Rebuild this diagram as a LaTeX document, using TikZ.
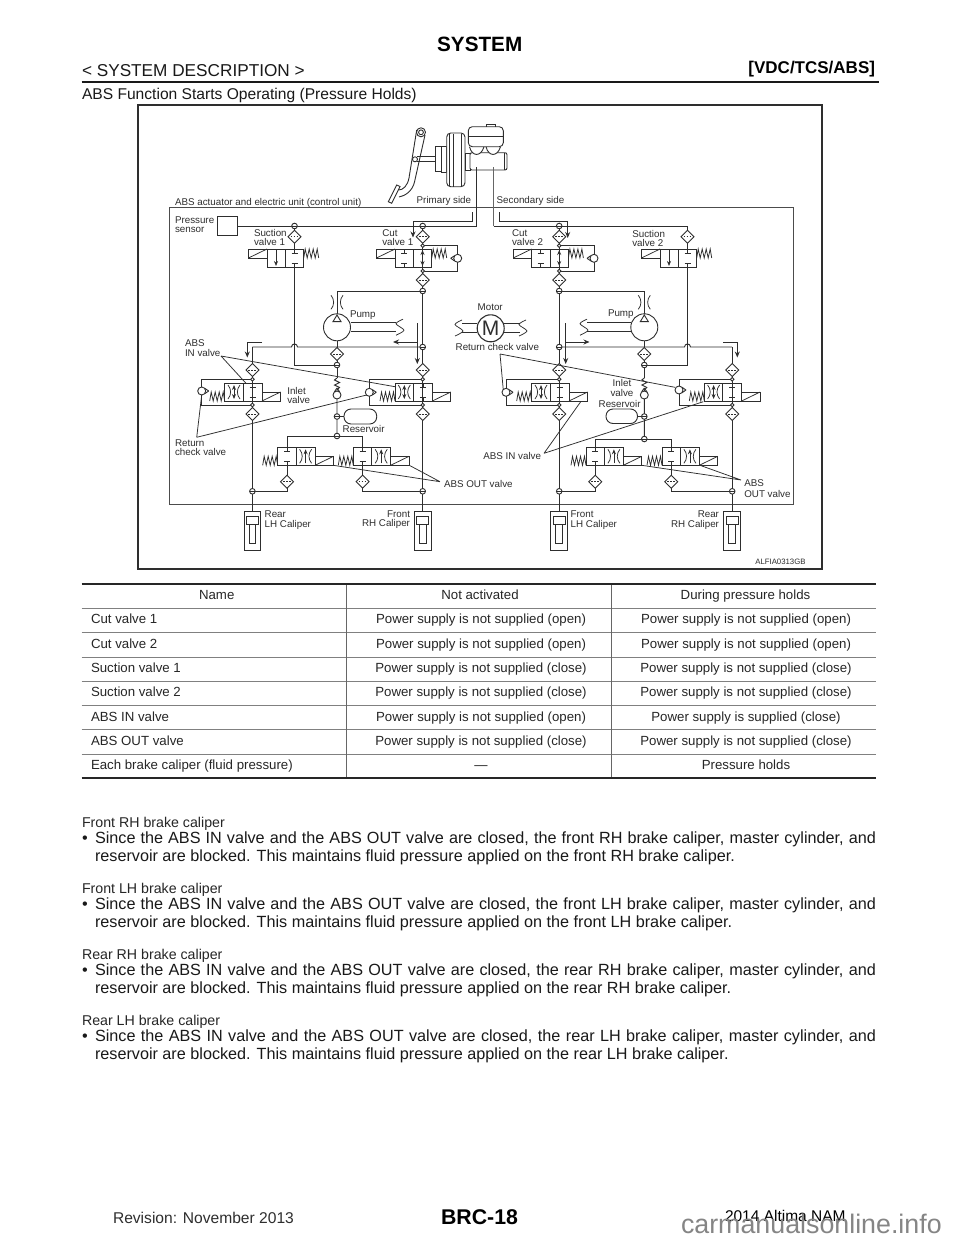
\documentclass[tikz,border=0pt]{standalone}
\usepackage{fontspec}
\setmainfont{Liberation Sans}
\usetikzlibrary{arrows.meta}
\newcommand{\fz}[1]{\fontsize{#1}{#1}\selectfont}
\colorlet{ink}{black!82}
\tikzset{
  base/.style={line width=0.9pt,draw=ink},
  thin line/.style={line width=0.75pt,draw=ink},
  txt/.style={inner sep=0pt,outer sep=0pt,text=ink},
  lb/.style={txt,anchor=base west,font=\fz{9.8}},
  lbr/.style={txt,anchor=base east,font=\fz{9.8}},
  body/.style={txt,anchor=base west,font=\fz{16.2},text=black!90},
  small/.style={txt,anchor=base west,font=\fz{14.2},text=black!85},
  cell/.style={txt,anchor=base,font=\fz{13.25},text=black!85},
  celll/.style={txt,anchor=base west,font=\fz{13.25},text=black!85},
  flow/.style={base,-{Stealth[length=6pt,width=5pt]}},
  jt/.pic={\draw[base,fill=white] (0,0) circle (2.8); \draw[base] (-2.8,0)--(2.8,0);},
  sj/.pic={\draw[base,fill=white] (0,0) circle (1.8);},
  dm/.pic={\draw[base,fill=white] (0,-6.5)--(6.5,0)--(0,6.5)--(-6.5,0)--cycle;
           \draw[line width=0.7pt,draw=ink,dash pattern=on 1.8pt off 1.2pt] (-4,0)--(4,0);},
  chkL/.pic={\draw[base,fill=white] (0,0) circle (4); \draw[base] (-7,0)--(-3.2,-2.6) (-7,0)--(-3.2,2.6);},
  chkR/.pic={\draw[base,fill=white] (0,0) circle (4); \draw[base] (7,0)--(3.2,-2.6) (7,0)--(3.2,2.6);},
  chkU/.pic={\draw[base,fill=white] (0,0) circle (4); \draw[base] (0,-7)--(-2.6,-3.2) (0,-7)--(2.6,-3.2);},
  stops/.pic={\draw[thin line] (0,0)--(0,4) (-3,4)--(3,4) (0,18)--(0,14) (-3,14)--(3,14);},
  thr/.pic={\draw[thin line] (-6,-7) .. controls (-2.5,-3) and (-2.5,3) .. (-6,7);
            \draw[thin line] (6,-7) .. controls (2.5,-3) and (2.5,3) .. (6,7);},
  brk/.pic={\draw[thin line] plot[smooth] coordinates {(7,-8) (0,-3.5) (8,3) (0,8)};},
  spr/.pic={\draw[thin line] (0,9)--(1.5,0)--(3.5,9)--(5.5,0)--(7.5,9)--(9.5,0)--(11.5,9)--(13.5,0)--(15,9);},
  sol/.pic={\draw[thin line] (0,0) rectangle (18.5,9); \draw[thin line] (0,9)--(18.5,0);},
  % top valves: origin = left top of box
  topsuc/.pic={\draw[base] (0,0) rectangle (36.7,18); \draw[base] (18.3,0)--(18.3,18);
     \draw[thin line,-{Stealth[length=5pt,width=4pt]}] (9,1)--(9,17);
     \pic at (27.5,0) {stops}; \pic at (-18.5,0) {sol}; \pic at (36.7,0) {spr};},
  topcut/.pic={\draw[base] (0,0) rectangle (36.7,18); \draw[base] (18.3,0)--(18.3,18);
     \pic at (9,0) {stops}; \draw[line width=1pt,draw=ink,{Stealth[length=5pt,width=4pt]}-{Stealth[length=5pt,width=4pt]}] (27.5,1)--(27.5,17);
     \pic at (-18.5,0) {sol}; \pic at (36.7,0) {spr};},
  invalve/.pic={\draw[base] (0,0) rectangle (37.3,18); \draw[base] (18.6,0)--(18.6,18);
     \pic at (27.9,0) {stops}; \pic at (9.3,9) {thr};
     \draw[line width=1pt,draw=ink,{Stealth[length=5pt,width=4pt]}-{Stealth[length=5pt,width=4pt]}] (9.3,2)--(9.3,16);
     \pic at (37.3,9) {sol}; \pic at (-15,9) {spr};},
  outvalve/.pic={\draw[base] (0,0) rectangle (37.3,18); \draw[base] (18.6,0)--(18.6,18);
     \pic at (9.3,0) {stops}; \pic at (27.9,9) {thr};
     \draw[line width=0.8pt,draw=ink,-{Stealth[length=5pt,width=4pt]}] (27.9,16)--(27.9,2);
     \pic at (37.3,9) {sol}; \pic at (-15,9) {spr};},
  pumpsym/.pic={\draw[base,fill=white] (0,0) circle (13.5);
     \draw[base] (0,-12.3)--(-4,-5.7)--(4,-5.7)--cycle; \pic at (0,-25) {thr};},
  caliper/.pic={\draw[base,fill=white] (-8.3,0) rectangle (8.3,39);
     \draw[base] (-5.8,5.5) rectangle (5.8,13); \draw[base] (-3.3,13) rectangle (3.3,32.5);},
}
\begin{document}
\begin{tikzpicture}[x=1pt,y=-1pt]
\useasboundingbox (0,0) rectangle (960,1242);
\clip (0,0) rectangle (960,1242);
\fill[white] (0,0) rectangle (960,1242);

% ===== page header
\node[txt,font=\fz{20.7}\bfseries,anchor=base,text=black] (title) at (479.7,51.7) {SYSTEM};
\node[txt,font=\fz{17.2},anchor=base west,text=black!90] (sect) at (82,76) {< SYSTEM DESCRIPTION >};
\node[txt,font=\fz{17}\bfseries,anchor=base east,text=black] (tag) at (875,73) {[VDC/TCS/ABS]};
\draw[line width=2pt,draw=black!90] (81.5,82)--(878.5,82);
\node[txt,font=\fz{15.6},anchor=base west,text=black!90] (head) at (82,99.3) {ABS Function Starts Operating (Pressure Holds)};

% ===== figure frame
\draw[line width=1.3pt,draw=ink] (138,105) rectangle (822,569);
\draw[line width=0.9pt,draw=black!70] (169,207) rectangle (793,504);

% ===== pedal
\draw[base] (416.7,130)--(409,178) .. controls (407.5,186) and (403,190) .. (398.5,190);
\draw[base] (425,135)--(414.5,182) .. controls (412.5,191) and (405,196) .. (399,197);
\draw[base,fill=white] (396.7,185)--(400,186.5)--(391.7,203.3)--(388.3,201.7)--cycle;
\draw[base,fill=white] (421,132.3) circle (4.5);
\draw[base] (421,132.3) circle (2.4);
\draw[base] (417,156.7)--(435,156.7) (417,161.7)--(435,161.7);
\draw[base,fill=white] (415,159.3) circle (2.5);
% booster
\draw[base,fill=white] (435,146.7) rectangle (441,171.7);
\draw[base,fill=white] (441,146) rectangle (446.7,172.7);
\draw[base,fill=white,rounded corners=4pt] (446.7,133) rectangle (465,186.7);
\draw[base] (449.5,134)--(449.5,186) (453,133.5)--(453,186.5) (461.7,134)--(461.7,186);
\draw[base] (465,153) rectangle (470,170);
% master cylinder
\draw[base,fill=white,rounded corners=2pt] (470,152.7) rectangle (507,170);
\draw[thin line] (504,153)--(504,170);
\draw[base,fill=white] (469.5,146.7) .. controls (472,157) and (481,157) .. (484,146.7);
\draw[base,fill=white] (486,146.7) .. controls (488.5,157) and (497.5,157) .. (500.5,146.7);
\draw[base,fill=white,rounded corners=4pt] (468.3,126.7) rectangle (503.3,146.7);
\draw[thin line] (468.3,136.7)--(503.3,136.7);
\draw[base] (486,126.7)--(486,124)--(495.7,124)--(495.7,126.7);

% ===== main lines
\coordinate (mcP) at (476.7,167);
\coordinate (mcS) at (493.5,167);
\draw[base] (237,226)--(476.7,226)--(mcP);
\draw[base,draw=black!60] (mcS)--(493.5,226);
\draw[base] (493.5,226)--(687.5,226)--(687.5,249);
\draw[base] (294.5,226)--(294.5,249);
% vertical risers
\draw[base] (422.7,226)--(422.7,511);
\draw[base] (559.2,226)--(559.2,511);
\draw[base] (252.4,347)--(252.4,511);
\draw[base] (732.2,347)--(732.2,511);
% cut bypass
\draw[base] (422.7,245.7)-|(457.7,271)-|(422.7,271);
\draw[base] (559.2,245.7)-|(594,271)-|(559.2,271);
% pump outlet
\draw[base] (422.7,291)-|(337,314);
\draw[base] (559.2,291)-|(644.3,314);
% suction lines
\draw[base] (294.5,267)--(294.5,365)--(337,365);
\draw[base] (687.5,267)--(687.5,365)--(644.3,365);
% high line with jumps
\draw[base] (252.4,347)--(291.5,347) .. controls (291.5,343) and (297.5,343) .. (297.5,347)--(422.7,347);
\draw[base] (559.2,347)--(684.5,347) .. controls (684.5,343) and (690.5,343) .. (690.5,347)--(732.2,347);
% centre lines
\draw[base] (337,340)--(337,378);
\draw[base] (337,378)--(334.5,380)--(339.5,382.5)--(334.5,385)--(339.5,387.5)--(337,390)--(337,436);
\draw[base] (644.3,340)--(644.3,378);
\draw[base] (644.3,378)--(641.8,380)--(646.8,382.5)--(641.8,385)--(646.8,387.5)--(644.3,390)--(644.3,439);
% OUT valve lines
\draw[base] (287,447.3)|-(362.6,436)--(362.6,447.3);
\draw[base] (595.3,447.3)|-(671.3,439)--(671.3,447.3);
\draw[base] (287,465.3)|-(252.4,491.3);
\draw[base] (362.6,465.3)|-(422.7,491.3);
\draw[base] (595.3,465.3)|-(559.2,491.3);
\draw[base] (671.3,465.3)|-(732.2,491.3);
% IN bypass
\draw[base] (252.4,379.3)-|(201.7,405)-|(252.4,405);
\draw[base] (422.7,379.3)-|(369.3,405)-|(422.7,405);
\draw[base] (559.2,379.3)-|(506,405)-|(559.2,405);
\draw[base] (732.2,379.3)-|(679,405)-|(732.2,405);

% ===== pressure sensor
\draw[base,fill=white] (217,216) rectangle (237,235);

% ===== top valves
\pic at (267,249) {topsuc};
\pic at (395,249) {topcut};
\pic at (531.7,249) {topcut};
\pic at (660,249) {topsuc};
\foreach \xx in {294.5,687.5} {\pic at (\xx,236.7) {dm};}
\foreach \xx in {422.7,559.2} {\pic at (\xx,236.7) {dm}; \pic at (\xx,280) {dm};
   \pic at (\xx,245.7) {sj}; \pic at (\xx,271) {sj};
   \pic at (\xx,291) {jt}; \pic at (\xx,347) {jt};}
\foreach \xx in {294.5,422.7,559.2} {\pic at (\xx,226) {jt};}
\pic at (457.7,258.3) {chkL};
\pic at (594,258.3) {chkL};

% ===== pumps and motor
\pic at (337,327.3) {pumpsym};
\pic at (644.3,327.3) {pumpsym};
\draw[base] (350.5,322.7)--(396,322.7) (350.5,331.7)--(396,331.7);
\pic at (396,327.2) {brk};
\draw[base] (630.8,322.7)--(587,322.7) (630.8,331.7)--(587,331.7);
\pic at (580,327.2) {brk};
\draw[base] (462,323.3)--(477.2,323.3) (462,332.7)--(477.2,332.7);
\pic at (455,328) {brk};
\draw[base] (504.2,323.3)--(520,323.3) (504.2,332.7)--(520,332.7);
\pic at (519,328) {brk};
\draw[line width=1.1pt,draw=ink,fill=white] (490.7,328.3) circle (13.5);
\node[txt,font=\fz{21}] (motorM) at (490.7,328.5) {M};

% flow arrows
\draw[flow] (472,212)--(472,221)--(413,221)--(413,237.5);
\draw[flow] (499.3,212)--(499.3,221)--(567.7,221)--(567.7,238);
\draw[base] (417.3,323)--(417.3,350);
\draw[flow] (417.3,342)--(393,342);
\draw[flow] (417.3,349)--(417.3,364);
\draw[base] (565.7,323)--(565.7,350);
\draw[flow] (565.7,342)--(589.5,342);
\draw[flow] (565.7,349)--(565.7,364);
\draw[flow] (262,342)--(247.3,342)--(247.3,357.5);
\draw[flow] (723.3,342)--(737.3,342)--(737.3,357.5);

% ===== centre column symbols
\foreach \xx in {337,644.3} {\pic at (\xx,354) {dm}; \pic at (\xx,365) {jt}; \pic at (\xx,395) {chkU}; \pic at (\xx,416.5) {jt};}
\pic at (337,436) {jt};
\pic at (644.3,439) {jt};
\draw[base,fill=white,rounded corners=7pt] (344,409) rectangle (376.7,424);
\draw[base] (339.8,416.5)--(344,416.5);
\draw[base,fill=white,rounded corners=7pt] (606,409) rectangle (637.5,423.5);
\draw[base] (637.5,416.5)--(641.5,416.5);

% ===== IN valves
\foreach \xx/\cc in {224.7/252.4,395/422.7,531.7/559.2,704.3/732.2} {
  \pic at (\xx,383) {invalve};
  \pic at (\cc,370) {dm}; \pic at (\cc,414) {dm};
  \pic at (\cc,379.3) {sj}; \pic at (\cc,405) {sj}; \pic at (\cc,491.3) {jt};
}
\pic at (201.7,391) {chkR};
\pic at (369.3,392.3) {chkR};
\pic at (506,392.3) {chkR};
\pic at (679,390) {chkR};

% ===== OUT valves
\foreach \xx/\cc in {277.7/287,353.3/362.6,586/595.3,662/671.3} {
  \pic at (\xx,447.3) {outvalve};
  \pic at (\cc,481.7) {dm};
}

% ===== calipers
\foreach \xx in {252.4,422.7,559.2,732.2} {\pic at (\xx,511) {caliper};}

% ===== leaders
\draw[thin line] (221,356)--(246,383.3) (221,356)--(395,386.7);
\draw[thin line] (196.7,437.3)--(201.7,395) (196.7,437.3)--(366.7,395);
\draw[thin line] (440,481.7)--(333.3,465.3) (440,481.7)--(409.3,465.3);
\draw[thin line] (544,453.3)--(581,401.3) (544,453.3)--(703.3,401.7);
\draw[thin line] (500,354)--(503.3,390) (500,354)--(675,387.3);
\draw[thin line] (741,480)--(641.7,465.3) (741,480)--(700,465.3);

% ===== figure labels
\node[lb] (l01) at (175,205) {ABS actuator and electric unit (control unit)};
\node[lb] (l02) at (416.7,203.5) {Primary side};
\node[lb] (l03) at (496.7,203.5) {Secondary side};
\node[lb] (l04) at (175,223.5) {Pressure};
\node[lb] (l05) at (175,232.7) {sensor};
\node[lb] (l06) at (254,236) {Suction};
\node[lb] (l07) at (254,245) {valve 1};
\node[lb] (l08) at (382.3,236) {Cut};
\node[lb] (l09) at (382.3,245) {valve 1};
\node[lb] (l10) at (512,236) {Cut};
\node[lb] (l11) at (512,245) {valve 2};
\node[lb] (l12) at (632.3,237) {Suction};
\node[lb] (l13) at (632.3,246) {valve 2};
\node[lb] (l14) at (350,317.5) {Pump};
\node[lb] (l15) at (608,316.5) {Pump};
\node[lb] (l16) at (477.7,310) {Motor};
\node[lb] (l17) at (455.7,350.5) {Return check valve};
\node[lb] (l18) at (185,346.5) {ABS};
\node[lb] (l19) at (185,356) {IN valve};
\node[lb] (l20) at (287.3,394) {Inlet};
\node[lb] (l21) at (287.3,403.5) {valve};
\node[lb] (l22) at (342.7,432.5) {Reservoir};
\node[lb] (l23) at (175,446) {Return};
\node[lb] (l24) at (175,455.5) {check valve};
\node[lb] (l25) at (444,487.5) {ABS OUT valve};
\node[lb] (l26) at (264.7,517.5) {Rear};
\node[lb] (l27) at (264.7,527) {LH Caliper};
\node[lbr] (l28) at (410,517) {Front};
\node[lbr] (l29) at (410,526.5) {RH Caliper};
\node[txt,font=\fz{9.8},anchor=base] (l30) at (622,386.5) {Inlet};
\node[txt,font=\fz{9.8},anchor=base] (l31) at (622,396) {valve};
\node[lb] (l32) at (598.7,407.5) {Reservoir};
\node[lb] (l33) at (483.3,459) {ABS IN valve};
\node[lb] (l34) at (744.3,486) {ABS};
\node[lb] (l35) at (744.3,497.5) {OUT valve};
\node[lb] (l36) at (570.7,517.5) {Front};
\node[lb] (l37) at (570.7,527) {LH Caliper};
\node[lbr] (l38) at (719,517.5) {Rear};
\node[lbr] (l39) at (719,527) {RH Caliper};
\node[txt,font=\fz{7.8},anchor=base west] (l40) at (755.3,564) {ALFIA0313GB};

% ===== table
\draw[line width=1.8pt,draw=black!85] (81.5,584)--(876,584);
\draw[line width=1.8pt,draw=black!85] (81.5,778)--(876,778);
\foreach \yy in {608.3,632.5,657,681,705.3,729.7,754} {\draw[line width=1pt,draw=black!50] (81.5,\yy)--(876,\yy);}
\draw[line width=0.6pt,draw=black!60] (346,585)--(346,777) (611,585)--(611,777);
\node[cell] (h1) at (216.7,599.5) {Name};
\node[cell] (h2) at (480,599.5) {Not activated};
\node[cell] (h3) at (745.5,599.5) {During pressure holds};
\newcommand{\trow}[5]{%
  \node[celll] (a#1) at (91,#2) {#3};
  \node[cell] (b#1) at (481,#2) {#4};
  \node[cell] (c#1) at (746,#2) {#5};}
\trow{1}{623.5}{Cut valve 1}{Power supply is not supplied (open)}{Power supply is not supplied (open)}
\trow{2}{648}{Cut valve 2}{Power supply is not supplied (open)}{Power supply is not supplied (open)}
\trow{3}{672}{Suction valve 1}{Power supply is not supplied (close)}{Power supply is not supplied (close)}
\trow{4}{696.5}{Suction valve 2}{Power supply is not supplied (close)}{Power supply is not supplied (close)}
\trow{5}{721}{ABS IN valve}{Power supply is not supplied (open)}{Power supply is supplied (close)}
\trow{6}{745}{ABS OUT valve}{Power supply is not supplied (close)}{Power supply is not supplied (close)}
\trow{7}{769.5}{Each brake caliper (fluid pressure)}{—}{Pressure holds}

% ===== body text
\newcommand{\para}[4]{%
  \node[small] (s#1) at (82,#2) {#3};
  \node[body] (d#1) at (82,#2+16) {•};
  \node[body] (e#1) at (95,#2+16) {\hbox to 781pt{Since the ABS IN valve and the ABS OUT valve are closed, the #4 brake caliper, master cylinder, and}};
  \node[body] (f#1) at (95,#2+34) {reservoir are blocked. This maintains fluid pressure applied on the #4 brake caliper.};}
\para{1}{827.5}{Front RH brake caliper}{front RH}
\para{2}{893}{Front LH brake caliper}{front LH}
\para{3}{959}{Rear RH brake caliper}{rear RH}
\para{4}{1025}{Rear LH brake caliper}{rear LH}

% ===== footer
\node[txt,font=\fz{15.6},anchor=base west] (f1) at (113,1223) {Revision: November 2013};
\node[txt,font=\fz{21.3}\bfseries,anchor=base,text=black] (f2) at (479.5,1224.5) {BRC-18};
\node[txt,font=\fz{15.5},anchor=base west,text=black] (f3) at (725,1221.7) {2014 Altima NAM};
\node[txt,font=\fz{26.8},anchor=base west,text=black!48] (wm) at (681,1233) {carmanualsonline.info};
\end{tikzpicture}
\end{document}
